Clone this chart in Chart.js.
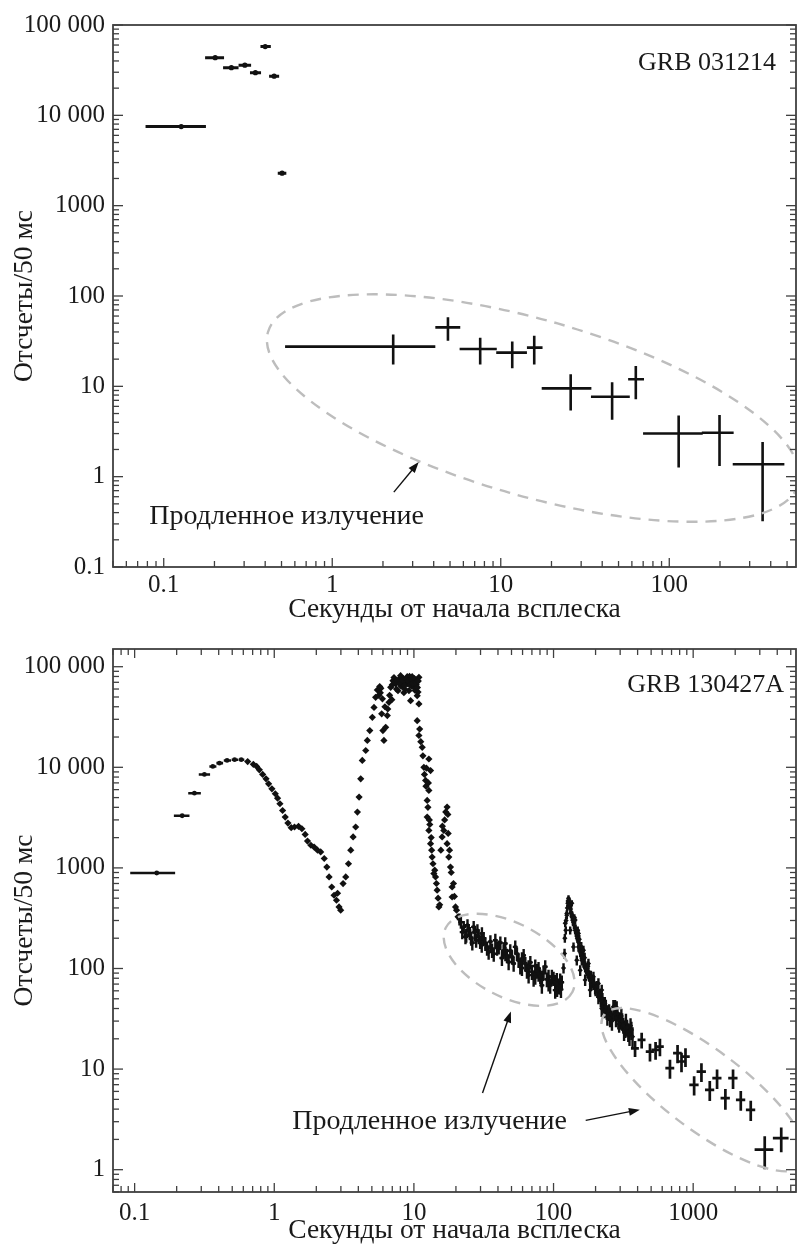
<!DOCTYPE html>
<html>
<head>
<meta charset="utf-8">
<script src="https://cdn.jsdelivr.net/npm/chart.js@4.4.1/dist/chart.umd.min.js"></script>
<style>
  html, body { margin: 0; padding: 0; background: #fff; overflow: hidden; width: 797px; height: 1245px; }
  canvas { position: absolute; left: 0; }
  #top { top: 0; }
  #bottom { top: 625px; }
</style>
</head>
<body>
<canvas id="top" width="800" height="625"></canvas>
<canvas id="bottom" width="800" height="620"></canvas>
<script>
const FONT = "'Liberation Serif', 'Times New Roman', serif";
const INK = '#1a1a1a';

// ---- GRB 031214 : main pulse ----
const pulse1Time   = [0.127, 0.202, 0.252, 0.303, 0.35, 0.40, 0.452, 0.504];
const pulse1TimeLo = [0.078, 0.176, 0.225, 0.278, 0.325, 0.375, 0.422, 0.475];
const pulse1TimeHi = [0.178, 0.228, 0.278, 0.330, 0.378, 0.432, 0.484, 0.534];
const pulse1Counts = [7500, 43500, 33700, 35900, 29700, 57700, 27100, 2290];
const pulse1Err    = [150, 900, 800, 800, 700, 1100, 700, 100];

// ---- GRB 031214 : extended emission ----
const ext1Time   = [2.30, 4.86, 7.55, 11.7, 15.8, 26, 45.8, 63.3, 113.7, 198.7, 358];
const ext1TimeLo = [0.525, 4.09, 5.7, 9.4, 14.3, 17.5, 34.3, 57, 69.9, 156, 238];
const ext1TimeHi = [4.09, 5.75, 9.47, 14.3, 17.7, 34.5, 58.3, 70.8, 158, 241, 482];
const ext1Counts = [27.5, 45, 25.9, 23.6, 26.8, 9.5, 7.67, 12, 3.01, 3.06, 1.37];
const ext1Err    = [10, 13, 8.5, 7.7, 9.4, 4.1, 3.4, 4.8, 1.75, 1.75, 1.05];

// ---- GRB 130427A : first wide bins ----
const early2Time   = [0.144, 0.219, 0.268, 0.316, 0.363, 0.405, 0.459, 0.52, 0.58];
const early2TimeLo = [0.093, 0.191, 0.242, 0.288, 0.343, 0.385, 0.435, 0.495, 0.555];
const early2TimeHi = [0.195, 0.247, 0.298, 0.347, 0.385, 0.43, 0.49, 0.55, 0.61];
const early2Counts = [890, 3300, 5530, 8490, 10200, 11000, 11700, 11900, 11900];
const early2Err    = [40, 90, 120, 160, 180, 190, 200, 200, 200];

// ---- GRB 130427A : bright prompt phase (dense points) ----
const dense2Time = [0.645, 0.708, 0.748, 0.782, 0.826, 0.873, 0.911, 0.962, 1.017, 1.056, 1.098, 1.147,
  1.198, 1.253, 1.322, 1.396, 1.492, 1.577, 1.665, 1.73, 1.83, 1.93, 2.04, 2.15, 2.28, 2.38, 2.47, 2.58,
  2.68, 2.79, 2.84, 2.91, 2.99, 3.11, 3.25, 3.40, 3.53, 3.67, 3.83, 3.94, 4.05, 4.16, 4.27, 4.52, 4.64,
  4.83, 5.04, 5.18, 5.32, 5.47, 5.6, 5.69, 5.8, 5.88, 6.0, 6.1, 6.28, 6.45, 6.63, 6.82, 6.95, 7.08, 7.2,
  7.4, 7.5, 7.69, 7.8, 8.03, 8.1, 8.21, 8.4, 8.48, 8.6, 8.72, 8.96, 9.0, 9.21, 9.3, 9.47, 9.47, 9.6, 9.72,
  9.9, 10.0, 10.2, 10.28, 10.4, 10.56, 10.7, 10.86, 10.86, 10.56, 10.86, 11.47, 11.79, 12.13, 12.45, 12.45,
  12.8, 12.8, 12.8, 13.16, 13.16, 13.51, 13.9, 14.29, 14.67, 15.09, 15.93, 16.37, 17.29, 17.29, 17.78,
  18.28, 18.78, 18.78, 19.86, 20.7,
  5.75, 5.95, 6.2, 6.5, 6.7, 7.0, 7.3, 7.6, 7.9, 8.3, 8.55, 8.8, 9.1, 9.4, 9.65, 9.8, 10.1, 10.35, 10.6, 10.75,
  11.0, 11.2, 11.6, 11.9, 12.2, 12.3, 12.6, 12.7, 12.9, 13.0, 13.3, 13.4, 13.7, 14.1, 14.5, 14.9, 15.3,
  15.6, 16.0, 16.6, 16.9, 17.5, 17.6, 18.0, 18.5, 19.2, 19.5, 20.2];
const dense2Counts = [11400, 10700, 10200, 9440, 8490, 7680, 6850, 6110, 5460, 4930, 4340, 3720,
  3200, 2790, 2510, 2550, 2590, 2450, 2150, 1850, 1680, 1610, 1500, 1440, 1240, 1020, 813, 646,
  535, 477, 560, 409, 380, 698, 813, 1100, 1500, 2030, 2550, 3590, 5060, 7690, 11700, 14700, 18500,
  23200, 31400, 39400, 49600, 58700, 52000, 63400, 61000, 34000, 23200, 18500, 25000, 32700, 44300, 62400, 47000, 72600, 78000,
  67300, 60000, 57800, 75000, 81400, 64000, 69400, 76000, 55200, 60000, 67300, 79600, 68000, 57800, 80000, 72600, 46000, 64000, 79600,
  70000, 62400, 58000, 72600, 66000, 51500, 56000, 78400, 42700, 29100, 20700, 15800, 10000, 7400, 4690, 3200,
  5890, 12100, 2360, 9290, 1740, 1280, 878, 813, 600, 409, 2030, 2360, 4020, 1740, 1280,
  1020, 646, 514, 409, 326,
  55000, 48000, 40000, 38000, 52000, 66000, 70000, 72000, 68000, 73000, 65000, 75000, 72000, 66000, 75000, 68000, 76000, 70000, 62000, 72000,
  24000, 18000, 13000, 8500, 6500, 9800, 4000, 7000, 3000, 2700, 2000, 1500, 1100, 950, 700, 500, 430,
  1500, 2600, 3000, 3600, 3400, 2200, 1500, 900, 700, 520, 380];

// ---- GRB 130427A : plateau, second flare and decay ----
const mid2Time = [21.7, 22.75, 23.4, 23.7, 24.7, 25.7, 26.8, 27.9, 29.1, 30.6, 30.7, 32.5, 34.3, 36.3, 38.3,
  40.5, 42.7, 45.1, 45.2, 47.7, 50.4, 53.2, 56.2, 59.4, 59.4, 62.8, 66.3, 66.3, 70, 74, 74, 78.1, 78.1,
  82.5, 82.5, 87.2, 92.1, 92.1, 97.3, 102.8, 102.8, 105.6, 108.6, 111.6, 111.6, 114.6,
  21.2, 22.2, 24.2, 25.2, 26.2, 27.3, 28.5, 29.8, 31.6, 33.4, 35.3, 37.3, 39.4, 41.6, 43.9, 46.4, 49, 51.8,
  54.7, 57.8, 61.1, 64.5, 68.2, 72, 76, 80.3, 84.8, 89.6, 94.6, 100, 106, 113,
  117.9, 119.9, 121.2, 122.4, 124.4, 124.5, 126.5, 128, 130.1, 131.6, 131.6, 133.3, 135.2, 135.2, 138.9,
  139, 142.8, 142.8, 146.7, 146.7, 150.9, 150.9, 155.2, 155.2, 159.4, 163.8, 163.8, 168.4, 168.4, 173.1,
  177.8, 177.8, 182.9, 182.9, 187.8, 193.1, 193.1, 198.5, 203.9, 209.6, 209.6,
  120.5, 123, 125.5, 127, 129, 131, 132.5, 134, 136, 137.5, 140, 141, 144, 145, 148, 149, 152, 153, 157, 158,
  161, 162, 166, 167, 171, 175, 176, 180, 185, 186, 190, 195, 200, 206,
  221.4, 221.4, 227.6, 233, 240.2, 246, 254.1, 268.3, 276, 283.4, 291.1, 300, 306, 316, 327, 330, 343, 361,
  215, 218, 224, 230, 237, 243, 250, 258, 262, 272, 280, 287, 295, 310, 320, 336, 350, 356, 368];
const mid2Counts = [289, 259, 206, 214, 240, 200, 259, 191, 206, 171, 223, 177, 146, 152, 191,
  164, 127, 177, 141, 116, 131, 164, 121, 101, 125, 112, 86, 104, 93, 106, 83, 89, 100,
  68, 77, 104, 71, 83, 83, 61, 74, 77, 66, 66, 77, 73,
  310, 230, 270, 225, 180, 230, 240, 185, 200, 160, 185, 140, 160, 180, 150, 135, 150, 112,
  140, 105, 135, 95, 115, 80, 95, 84, 92, 78, 68, 80, 63, 62,
  101, 141, 282, 240, 352, 339, 446, 499, 446, 409, 240, 363, 326, 446, 289,
  164, 240, 303, 210, 121, 164, 223, 146, 96, 121, 116, 152, 104, 77, 96,
  89, 112, 80, 61, 77, 70, 83, 64, 66, 52, 71,
  200, 300, 400, 470, 480, 430, 390, 350, 340, 300, 270, 320, 250, 230, 200, 240, 180, 195, 140, 165,
  130, 150, 112, 128, 100, 92, 105, 85, 84, 70, 74, 72, 62, 60,
  40, 61, 45, 45, 37, 36, 32, 41.7, 41.7, 40.2, 30.8, 30.6, 33.7, 27.4, 25.4, 29.4, 23.6, 24.5,
  55, 48, 50, 38, 42, 33, 38, 35, 30, 36, 32, 36, 28, 30, 24, 26, 22, 27, 21];
const mid2TimeErr = [0.9, 0.9, 1.0, 1.0, 1.0, 1.0, 1.1, 1.1, 1.2, 1.2, 1.2, 1.3, 1.4, 1.4, 1.5,
  1.6, 1.7, 1.8, 1.8, 1.9, 2.0, 2.1, 2.2, 2.3, 2.3, 2.5, 2.6, 2.6, 2.8, 2.9, 2.9, 3.1, 3.1,
  3.3, 3.3, 3.4, 3.6, 3.6, 3.8, 4.0, 4.0, 4.1, 4.2, 4.3, 4.3, 4.4,
  0.9, 0.9, 1.0, 1.0, 1.1, 1.1, 1.1, 1.2, 1.3, 1.3, 1.4, 1.5, 1.6, 1.7, 1.8, 1.9, 2.0, 2.1,
  2.2, 2.3, 2.4, 2.6, 2.7, 2.9, 3.0, 3.2, 3.4, 3.6, 3.8, 4.0, 4.2, 4.5,
  1.5, 1.5, 1.5, 1.5, 1.5, 1.5, 1.6, 1.6, 1.6, 1.6, 1.6, 1.7, 1.7, 1.7, 1.7,
  1.7, 1.8, 1.8, 1.8, 1.8, 1.9, 1.9, 1.9, 1.9, 2.0, 2.0, 2.0, 2.1, 2.1, 2.2,
  2.2, 2.2, 2.3, 2.3, 2.3, 2.4, 2.4, 2.5, 2.5, 2.6, 2.6,
  1.5, 1.5, 1.5, 1.6, 1.6, 1.6, 1.6, 1.7, 1.7, 1.7, 1.7, 1.8, 1.8, 1.8, 1.9, 1.9, 1.9, 1.9, 2.0, 2.0,
  2.0, 2.0, 2.1, 2.1, 2.2, 2.2, 2.2, 2.3, 2.3, 2.3, 2.4, 2.4, 2.5, 2.6,
  4, 4, 4, 4, 4, 4, 5, 5, 5, 5, 6, 6, 6, 6, 7, 7, 7, 8,
  4, 4, 4, 4, 4, 4, 5, 5, 5, 5, 6, 6, 6, 6, 7, 7, 7, 8, 8];
const mid2CountsErr = [40, 38, 32, 34, 36, 32, 38, 30, 32, 28, 34, 28, 24, 25, 30,
  26, 21, 28, 23, 20, 21, 26, 20, 17, 20, 18, 15, 17, 16, 17, 14, 15, 16,
  12, 13, 17, 12, 14, 14, 11, 12, 13, 11, 11, 12, 12,
  42, 35, 38, 34, 29, 34, 35, 29, 31, 26, 29, 23, 26, 28, 24, 22, 24, 19,
  22, 18, 21, 16, 18, 14, 16, 14, 15, 13, 12, 13, 11, 11,
  12, 16, 24, 22, 28, 28, 32, 35, 32, 30, 22, 28, 26, 32, 25,
  17, 22, 26, 20, 14, 17, 21, 16, 12, 14, 14, 16, 13, 10, 12,
  11, 13, 10, 9, 10, 9, 10, 9, 9, 8, 9,
  20, 25, 30, 33, 34, 32, 30, 28, 28, 26, 24, 27, 23, 22, 20, 22, 19, 20, 16, 18,
  15, 17, 14, 15, 13, 12, 13, 11, 11, 10, 10, 10, 9, 9,
  7, 8, 7, 7, 6, 6, 6, 7, 7, 7, 6, 6, 6, 5, 5, 6, 5, 5,
  8, 7, 7, 6, 7, 6, 6, 6, 6, 6, 6, 6, 5, 6, 5, 5, 5, 5, 5];

// ---- GRB 130427A : late tail ----
const tail2Time      = [383.5, 427.7, 490.6, 538, 578, 682, 773, 825, 881, 1016, 1146, 1315, 1483, 1701, 1930, 2192, 2584, 3254, 4272];
const tail2Counts    = [16.1, 19.5, 14.9, 15.5, 16.7, 10.2, 14.4, 11.9, 13.3, 6.97, 9.45, 6.22, 8.13, 5.14, 8.13, 4.95, 3.94, 1.58, 2.06];
const tail2TimeErr   = [25, 28, 33, 36, 38, 50, 55, 60, 64, 78, 88, 100, 112, 130, 148, 168, 198, 500, 550];
const tail2CountsErr = [2.9, 3.5, 3.0, 3.1, 3.3, 2.2, 3.0, 2.6, 2.8, 1.5, 2.0, 1.4, 1.8, 1.2, 1.8, 1.1, 0.9, 0.57, 0.57];

// ---- axes ----
const topXTicks    = [0.1, 1, 10, 100];
const topXLabels   = ['0.1', '1', '10', '100'];
const topYTicks    = [0.1, 1, 10, 100, 1000, 10000, 100000];
const topYLabels   = ['0.1', '1', '10', '100', '1000', '10 000', '100 000'];
const botXTicks    = [0.1, 1, 10, 100, 1000];
const botXLabels   = ['0.1', '1', '10', '100', '1000'];
const botYTicks    = [1, 10, 100, 1000, 10000, 100000];
const botYLabels   = ['1', '10', '100', '1000', '10 000', '100 000'];

const xTitle = 'Секунды от начала всплеска';
const yTitle = 'Отсчеты/50 мс';
const noteText = 'Продленное излучение';

function pts(t, c) { return t.map((v, i) => ({ x: v, y: c[i] })); }
function barsLoHi(tLo, tHi, c, e) { return c.map((v, i) => ({ xLo: tLo[i], xHi: tHi[i], yLo: v - e[i], yHi: v + e[i] })); }
function barsSym(t, dt, c, e) { return c.map((v, i) => ({ xLo: t[i] - dt[i], xHi: t[i] + dt[i], yLo: v - e[i], yHi: v + e[i] })); }

function logTickValues(majors, min, max) {
  const out = [];
  [majors[0] / 10].concat(majors).forEach(d => {
    for (let k = 1; k <= 9; k++) {
      const v = k === 1 ? d : d * k;
      if (v >= min * 0.999 && v <= max * 1.001) out.push(v);
    }
  });
  return out;
}

function logAxis(o) {
  return {
    type: 'logarithmic', position: o.position, min: o.min, max: o.max,
    grid: { display: false, drawTicks: false },
    border: { display: false },
    afterBuildTicks: s => { s.ticks = logTickValues(o.majors, o.min, o.max).map(v => ({ value: v })); },
    afterFit: s => { if (o.position === 'left') s.width = o.size; else s.height = o.size; },
    ticks: {
      autoSkip: false, maxRotation: 0, minRotation: 0, padding: o.pad,
      font: { family: FONT, size: 25 }, color: INK,
      callback: v => { const i = o.majors.indexOf(v); return i < 0 ? '' : o.labels[i]; }
    },
    title: { display: true, text: o.title, color: INK, font: { family: FONT, size: 27.5, lineHeight: 1 }, padding: o.titlePad }
  };
}

// inward tick marks and frame
const framePlugin = {
  id: 'frame',
  afterDraw(chart, args, o) {
    const { ctx, chartArea: a, scales: { x, y } } = chart;
    const line = (x0, y0, x1, y1) => { ctx.beginPath(); ctx.moveTo(x0, y0); ctx.lineTo(x1, y1); ctx.stroke(); };
    ctx.save();
    ctx.strokeStyle = '#404040';
    ctx.lineWidth = 1.3;
    x.ticks.forEach(t => {
      const px = x.getPixelForValue(t.value);
      const len = o.xMajors.includes(t.value) ? 9 : 6;
      line(px, a.bottom, px, a.bottom - len);
      if (o.topTicks) line(px, a.top, px, a.top + len);
    });
    y.ticks.forEach(t => {
      const py = y.getPixelForValue(t.value);
      const len = o.yMajors.includes(t.value) ? 10 : 6;
      line(a.left, py, a.left + len, py);
      line(a.right, py, a.right - len, py);
    });
    ctx.lineWidth = 1.8;
    ctx.strokeRect(a.left, a.top, a.right - a.left, a.bottom - a.top);
    ctx.restore();
  }
};

// error bars from dataset.bars
const errorBarPlugin = {
  id: 'errorBars',
  beforeDatasetsDraw(chart) {
    const { ctx, chartArea: a, scales: { x, y } } = chart;
    ctx.save();
    ctx.beginPath(); ctx.rect(a.left, a.top, a.right - a.left, a.bottom - a.top); ctx.clip();
    chart.data.datasets.forEach(ds => {
      if (!ds.bars) return;
      ctx.strokeStyle = '#111';
      ctx.lineWidth = ds.barWidth;
      ds.data.forEach((p, i) => {
        const b = ds.bars[i];
        const px = x.getPixelForValue(p.x), py = y.getPixelForValue(p.y);
        ctx.beginPath();
        ctx.moveTo(x.getPixelForValue(b.xLo), py); ctx.lineTo(x.getPixelForValue(b.xHi), py);
        ctx.moveTo(px, y.getPixelForValue(b.yLo)); ctx.lineTo(px, y.getPixelForValue(b.yHi));
        ctx.stroke();
      });
    });
    ctx.restore();
  }
};

// dashed ellipses, arrows and texts
const notesPlugin = {
  id: 'notes',
  afterDatasetsDraw(chart, args, o) {
    const { ctx, chartArea: a, scales: { x, y } } = chart;
    const P = (t, c) => [x.getPixelForValue(t), y.getPixelForValue(c)];
    ctx.save();
    ctx.beginPath(); ctx.rect(a.left, a.top, a.right - a.left, a.bottom - a.top); ctx.clip();
    ctx.strokeStyle = '#bdbdbd'; ctx.lineWidth = 2.4; ctx.setLineDash([11, 8]);
    o.ellipses.forEach(e => {
      const [cx, cy] = P(e.t, e.c);
      ctx.beginPath();
      ctx.ellipse(cx, cy, e.rx, e.ry, e.angle * Math.PI / 180, 0, Math.PI * 2);
      ctx.stroke();
    });
    ctx.setLineDash([]);
    ctx.strokeStyle = '#111'; ctx.fillStyle = '#111'; ctx.lineWidth = 1.4;
    o.arrows.forEach(r => {
      const [x0, y0] = P(r.from[0], r.from[1]);
      const [x1, y1] = P(r.to[0], r.to[1]);
      const g = Math.atan2(y1 - y0, x1 - x0), L = 11, W = 4;
      const c = Math.cos(g), s = Math.sin(g);
      ctx.beginPath(); ctx.moveTo(x0, y0); ctx.lineTo(x1 - L * 0.7 * c, y1 - L * 0.7 * s); ctx.stroke();
      ctx.beginPath(); ctx.moveTo(x1, y1);
      ctx.lineTo(x1 - L * c + W * s, y1 - L * s - W * c);
      ctx.lineTo(x1 - L * c - W * s, y1 - L * s + W * c);
      ctx.closePath(); ctx.fill();
    });
    ctx.fillStyle = INK;
    ctx.font = '28px ' + FONT;
    ctx.textBaseline = 'middle';
    ctx.textAlign = 'left';
    const [lx, ly] = P(o.label.t, o.label.c);
    ctx.fillText(o.label.text, lx, ly);
    ctx.font = '26px ' + FONT;
    ctx.textAlign = 'right';
    ctx.fillText(o.name, a.right - o.nameDx, a.top + o.nameDy);
    ctx.restore();
  }
};

function makeChart(id, cfg) {
  return new Chart(document.getElementById(id), {
    type: 'scatter',
    data: { datasets: cfg.datasets },
    options: {
      responsive: false, animation: false, events: [], devicePixelRatio: 1,
      layout: { padding: { top: cfg.padTop, right: 2, left: 0, bottom: 0 } },
      plugins: { legend: { display: false }, tooltip: { enabled: false },
        frame: cfg.frame, notes: cfg.notes },
      scales: { x: cfg.x, y: cfg.y }
    },
    plugins: [errorBarPlugin, notesPlugin, framePlugin]
  });
}

makeChart('top', {
  padTop: 25,
  datasets: [
    { data: pts(pulse1Time, pulse1Counts), bars: barsLoHi(pulse1TimeLo, pulse1TimeHi, pulse1Counts, pulse1Err), barWidth: 3,
      pointRadius: 2.6, pointBackgroundColor: '#111', pointBorderWidth: 0 },
    { data: pts(ext1Time, ext1Counts), bars: barsLoHi(ext1TimeLo, ext1TimeHi, ext1Counts, ext1Err), barWidth: 2.6,
      pointRadius: 0 }
  ],
  x: logAxis({ position: 'bottom', min: 0.05, max: 565, majors: topXTicks, labels: topXLabels, size: 58, pad: 3,
    title: xTitle, titlePad: { bottom: 1.5 } }),
  y: logAxis({ position: 'left', min: 0.1, max: 100000, majors: topYTicks, labels: topYLabels, size: 113, pad: 8,
    title: yTitle, titlePad: { top: 11 } }),
  frame: { topTicks: false, xMajors: topXTicks, yMajors: topYTicks },
  notes: {
    ellipses: [{ t: 15.6, c: 5.75, rx: 276, ry: 88, angle: 16 }],
    arrows: [{ from: [2.32, 0.675], to: [3.26, 1.45] }],
    label: { text: noteText, t: 0.0821, c: 0.357 },
    name: 'GRB 031214', nameDx: 20, nameDy: 38
  }
});

makeChart('bottom', {
  padTop: 24,
  datasets: [
    { data: pts(early2Time, early2Counts), bars: barsLoHi(early2TimeLo, early2TimeHi, early2Counts, early2Err), barWidth: 2.6,
      pointRadius: 2.4, pointBackgroundColor: '#111', pointBorderWidth: 0 },
    { data: pts(dense2Time, dense2Counts), pointStyle: 'rectRot', pointRadius: 3.6,
      pointBackgroundColor: '#111', pointBorderWidth: 0 },
    { data: pts(mid2Time, mid2Counts), bars: barsSym(mid2Time, mid2TimeErr, mid2Counts, mid2CountsErr), barWidth: 2.4,
      pointStyle: 'rectRot', pointRadius: 2.6, pointBackgroundColor: '#111', pointBorderWidth: 0 },
    { data: pts(tail2Time, tail2Counts), bars: barsSym(tail2Time, tail2TimeErr, tail2Counts, tail2CountsErr), barWidth: 2.7,
      pointRadius: 0 }
  ],
  x: logAxis({ position: 'bottom', min: 0.07, max: 5450, majors: botXTicks, labels: botXLabels, size: 53, pad: 6,
    title: xTitle, titlePad: { bottom: 0 } }),
  y: logAxis({ position: 'left', min: 0.6, max: 150000, majors: botYTicks, labels: botYLabels, size: 113, pad: 8,
    title: yTitle, titlePad: { top: 11 } }),
  frame: { topTicks: true, xMajors: botXTicks, yMajors: botYTicks },
  notes: {
    ellipses: [{ t: 48.1, c: 122, rx: 71, ry: 37, angle: 27 }, { t: 1197, c: 6.24, rx: 125, ry: 40, angle: 37 }],
    arrows: [{ from: [31, 5.78], to: [49.5, 37.4] }, { from: [170, 3.09], to: [415, 3.95] }],
    label: { text: noteText, t: 1.345, c: 3.02 },
    name: 'GRB 130427A', nameDx: 12, nameDy: 36
  }
});
</script>
</body>
</html>
